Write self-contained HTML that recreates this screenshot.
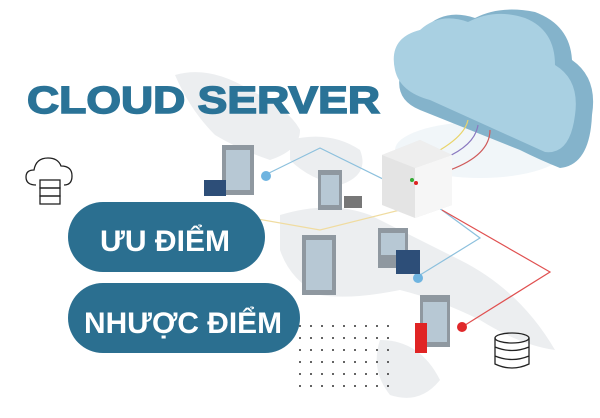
<!DOCTYPE html>
<html><head><meta charset="utf-8"><style>
body{margin:0;width:600px;height:413px;overflow:hidden;background:#fff;font-family:"Liberation Sans",sans-serif}
</style></head><body>
<svg width="600" height="413" viewBox="0 0 600 413" xmlns="http://www.w3.org/2000/svg">
<!-- map -->
<g fill="#eceef0">
<path d="M175 75 Q210 65 250 90 Q290 110 300 130 Q300 150 270 160 Q240 150 215 135 Q190 110 175 75Z"/>
<path d="M290 140 Q330 130 360 150 Q370 175 340 185 Q310 180 290 160Z"/>
<path d="M280 215 Q330 200 370 215 Q420 240 460 260 Q520 290 555 350 Q520 345 480 320 Q440 300 400 290 Q350 300 320 295 Q290 280 280 250Z"/>
<path d="M380 340 Q420 340 440 380 Q420 405 390 395 Q370 370 380 340Z"/>
</g>
<!-- cloud -->
<ellipse cx="480" cy="150" rx="85" ry="28" fill="#f1f6f9"/>
<path d="M400 75 Q392 40 425 28 Q445 8 475 18 Q500 5 535 12 Q570 25 572 60 Q598 78 592 115 Q590 165 560 168 Q540 160 520 150 L420 110 Q395 100 400 75Z" fill="#84b3cb"/>
<path d="M395 70 Q388 38 420 30 Q440 12 468 22 Q495 8 525 18 Q555 30 555 65 Q580 80 575 115 Q570 155 545 152 L430 100 Q400 92 395 70Z" fill="#a9d0e2"/>
<!-- cables -->
<g fill="none" stroke-width="1.2">
<path d="M440 150 Q465 135 468 120" stroke="#e9d46a"/>
<path d="M445 158 Q475 145 478 125" stroke="#8a78c0"/>
<path d="M450 170 Q490 155 490 130" stroke="#cf5a5a"/>
<path d="M265 175 L320 148 L395 185" stroke="#8cc0dd"/>
<path d="M435 205 L480 238 L420 275" stroke="#8cc0dd"/>
<path d="M442 210 L550 272 L462 327" stroke="#e05050"/>
<path d="M235 215 L320 230 L400 210" stroke="#f0dca0"/>
</g>
<circle cx="266" cy="176" r="5" fill="#6fb4e0"/>
<circle cx="418" cy="278" r="5" fill="#6fb4e0"/>
<circle cx="462" cy="327" r="5" fill="#e0282a"/>
<!-- server box -->
<path d="M382 155 L420 140 L452 155 L452 205 L415 218 L382 205Z" fill="#e4e4e4"/>
<path d="M415 168 L452 155 L452 205 L415 218Z" fill="#f6f6f6"/>
<path d="M382 155 L420 140 L452 155 L415 168Z" fill="#eeeeee"/>
<circle cx="412" cy="180" r="2" fill="#3a3"/><circle cx="416" cy="183" r="2" fill="#d22"/>
<!-- buildings -->
<g>
<rect x="222" y="145" width="32" height="50" fill="#8f98a0"/><rect x="226" y="150" width="24" height="40" fill="#b7c8d4"/>
<rect x="204" y="180" width="22" height="16" fill="#2d4e78"/>
<rect x="318" y="170" width="24" height="40" fill="#8f98a0"/><rect x="321" y="175" width="18" height="30" fill="#b7c8d4"/>
<rect x="344" y="196" width="18" height="12" fill="#777"/>
<rect x="302" y="235" width="34" height="60" fill="#8f98a0"/><rect x="306" y="240" width="26" height="50" fill="#b7c8d4"/>
<rect x="378" y="228" width="30" height="40" fill="#8f98a0"/><rect x="381" y="233" width="24" height="22" fill="#b7c8d4"/>
<rect x="396" y="250" width="24" height="24" fill="#2d4e78"/>
<rect x="420" y="295" width="30" height="52" fill="#8f98a0"/><rect x="423" y="302" width="24" height="40" fill="#b7c8d4"/>
<rect x="415" y="323" width="12" height="30" fill="#e02424"/>
</g>
<!-- dots -->
<g fill="#333">
<g id="r"><circle cx="300" cy="326" r="1"/><circle cx="311" cy="326" r="1"/><circle cx="322" cy="326" r="1"/><circle cx="333" cy="326" r="1"/><circle cx="344" cy="326" r="1"/><circle cx="355" cy="326" r="1"/><circle cx="366" cy="326" r="1"/><circle cx="377" cy="326" r="1"/><circle cx="388" cy="326" r="1"/></g>
<use href="#r" y="12"/><use href="#r" y="24"/><use href="#r" y="36"/><use href="#r" y="48"/><use href="#r" y="60"/>
</g>
<!-- title -->
<text x="27" y="113" font-family="Liberation Sans" font-weight="900" font-size="38" fill="#2a7397" textLength="353" lengthAdjust="spacingAndGlyphs" stroke="#2a7397" stroke-width="1.5">CLOUD SERVER</text>
<!-- pills -->
<rect x="68" y="202" width="197" height="70" rx="35" fill="#2b6f90"/>
<text x="100" y="251" font-weight="bold" font-size="30" fill="#fff" textLength="130" lengthAdjust="spacingAndGlyphs">ƯU ĐIỂM</text>
<rect x="68" y="283" width="232" height="70" rx="35" fill="#2b6f90"/>
<text x="84" y="333" font-weight="bold" font-size="30" fill="#fff" textLength="198" lengthAdjust="spacingAndGlyphs">NHƯỢC ĐIỂM</text>
<!-- icons -->
<g fill="none" stroke="#222" stroke-width="1.3">
<path d="M36 185 Q26 185 26 177 Q26 170 34 170 Q36 158 48 158 Q58 158 61 166 Q72 166 72 176 Q72 185 64 185"/>
<rect x="40" y="180" width="20" height="8" fill="#fff"/><rect x="40" y="188" width="20" height="8"/><rect x="40" y="196" width="20" height="8"/>
<ellipse cx="512" cy="338" rx="17" ry="5"/><path d="M495 338 V364 Q512 372 529 364 V338 M495 347 Q512 354 529 347 M495 356 Q512 363 529 356"/>
</g>
</svg>
</body></html>
